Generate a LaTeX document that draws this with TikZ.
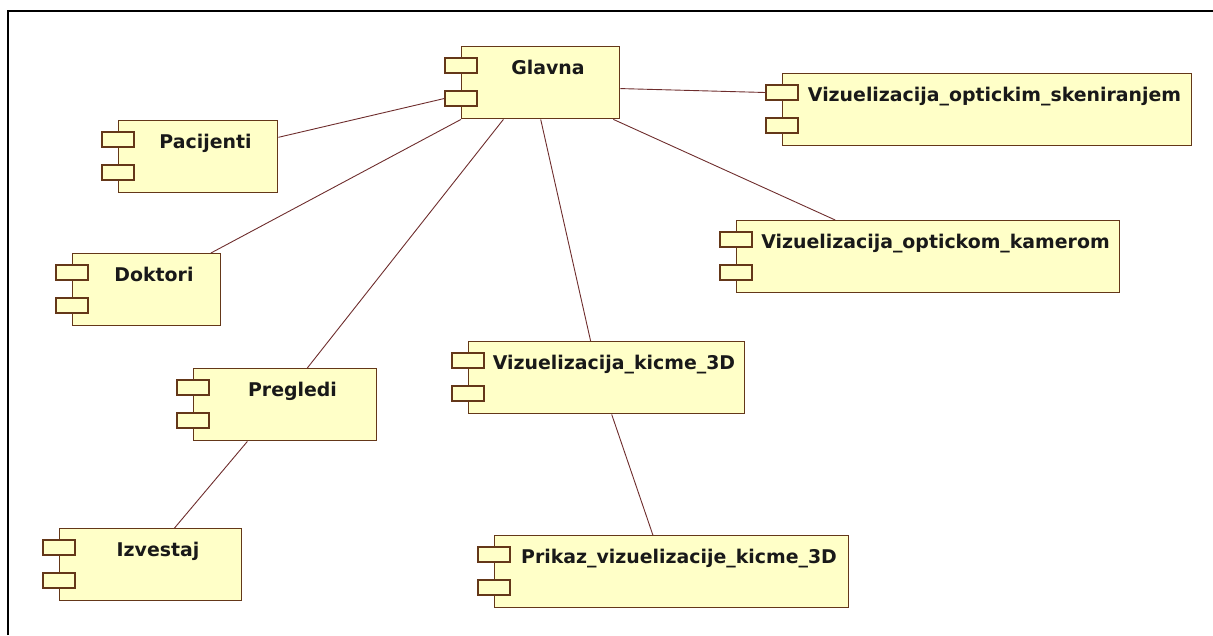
\documentclass[tikz,border=0pt]{standalone}
\usepackage{fontspec}
\setmainfont{DejaVu Sans}
\usetikzlibrary{calc}
\definecolor{compfill}{RGB}{255,255,200}
\definecolor{compdraw}{RGB}{100,55,25}
\definecolor{linkcol}{RGB}{110,45,45}
\definecolor{txtcol}{RGB}{25,25,25}
\tikzset{
 comp/.style={draw=compdraw, fill=compfill, line width=1.4pt, inner sep=0pt, anchor=north west, minimum height=72pt},
 port/.style={draw=compdraw, fill=compfill, line width=1.4pt, inner sep=0pt, minimum width=32pt, minimum height=15pt},
 lbl/.style={font=\bfseries\fontsize{18.9}{22}\selectfont, anchor=base, inner sep=0pt, text=txtcol},
 link/.style={draw=linkcol, line width=0.9pt},
}
\newcommand\umlcomp[5]{%
 \node[comp, minimum width={(#4-#2)*1pt}] (#1) at (#2,#3) {};
 \node[port] (#1p1) at (#2,#3+19.5) {};
 \node[port] (#1p2) at (#2,#3+52.5) {};
 \node[lbl] (#1t) at ({(#2+16+#4)/2},#3+28.5) {#5};
}
\begin{document}
\begin{tikzpicture}[x=1pt,y=-1pt]
\useasboundingbox (0,0) rectangle (1213,635);
\draw[line width=2pt, black] (8,635) -- (8,11) -- (1213,11);

\umlcomp{glavna}{461}{46}{619}{Glavna}
\umlcomp{pacijenti}{118}{120}{277}{Pacijenti}
\umlcomp{doktori}{72}{253}{220}{Doktori}
\umlcomp{pregledi}{193}{368}{376}{Pregledi}
\umlcomp{izvestaj}{59}{528}{241}{Izvestaj}
\umlcomp{kicme}{468}{341}{744}{Vizuelizacija\_kicme\_3D}
\umlcomp{prikaz}{494}{535}{848}{Prikaz\_vizuelizacije\_kicme\_3D}
\umlcomp{sken}{782}{73}{1191}{Vizuelizacija\_optickim\_skeniranjem}
\umlcomp{kamerom}{736}{220}{1119}{Vizuelizacija\_optickom\_kamerom}

\draw[link] ($(pacijenti.north east)!0.236!(pacijenti.south east)$) -- (glavnap2.west);
\draw[link] ($(doktori.north west)!0.93!(doktori.north east)$) -- (glavna.south west);
\draw[link] ($(pregledi.north west)!0.62!(pregledi.north east)$) -- ($(glavna.south west)!0.266!(glavna.south east)$);
\draw[link] ($(kicme.north west)!0.442!(kicme.north east)$) -- ($(glavna.south west)!0.5!(glavna.south east)$);
\draw[link] ($(kamerom.north west)!0.258!(kamerom.north east)$) -- ($(glavna.south west)!0.956!(glavna.south east)$);
\draw[link] ($(glavna.north east)!0.58!(glavna.south east)$) -- (skenp1.west);
\draw[link] ($(pregledi.south west)!0.295!(pregledi.south east)$) -- ($(izvestaj.north west)!0.63!(izvestaj.north east)$);
\draw[link] ($(kicme.south west)!0.518!(kicme.south east)$) -- ($(prikaz.north west)!0.447!(prikaz.north east)$);
\end{tikzpicture}
\end{document}
